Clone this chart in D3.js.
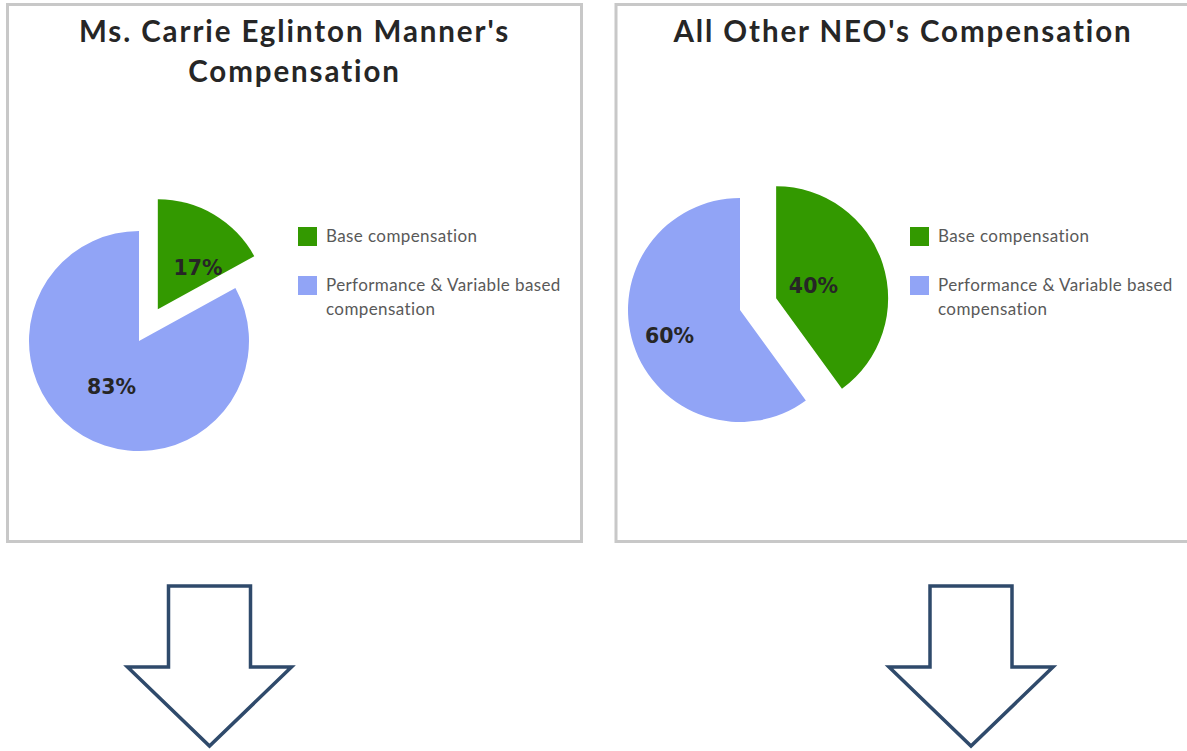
<!DOCTYPE html>
<html>
<head>
<meta charset="utf-8">
<script src="https://cdn.jsdelivr.net/npm/d3@7"></script>
<style>
  html, body { margin: 0; padding: 0; background: #ffffff; }
  svg { display: block; }
</style>
</head>
<body>
<script>
// ---------- DATA ----------
const categories = ["Base compensation", "Performance & Variable based compensation"];
const legendLines = [["Base compensation"], ["Performance & Variable based", "compensation"]];
const carrieValues = [17, 83];
const otherValues = [40, 60];
const carrieTitle = ["Ms. Carrie Eglinton Manner's", "Compensation"];
const otherTitle = ["All Other NEO's Compensation"];
const sliceColors = ["#339900", "#91a4f6"];

// ---------- LAYOUT ----------
const W = 1187, H = 751;
const panels = [
  { x: 7.5, y: 4.5, w: 574, h: 537, title: carrieTitle, values: carrieValues,
    cx: 139, cy: 341, r: 110, explode: 37, legendX: 298, labelFrac: [0.52, 0.49], labelNudge: [14, 0] },
  { x: 616, y: 4.5, w: 574, h: 537, title: otherTitle, values: otherValues,
    cx: 740, cy: 310, r: 112, explode: 38, legendX: 910, labelFrac: [0.35, 0.67], labelNudge: [0, -2] }
];

const svg = d3.select("body").append("svg").attr("width", W).attr("height", H);

const pie = d3.pie().sort(null).value(d => d);

panels.forEach(p => {
  const g = svg.append("g");
  g.append("rect").attr("x", p.x).attr("y", p.y).attr("width", p.w).attr("height", p.h)
    .attr("fill", "#fff").attr("stroke", "#c8c8c8").attr("stroke-width", 3);

  // title
  const tcx = p.x + p.w / 2;
  g.append("text").attr("x", tcx).attr("y", 42).attr("text-anchor", "middle")
    .attr("font-family", "Lato, 'Open Sans', sans-serif").attr("font-weight", "bold")
    .attr("font-size", 29.5).attr("letter-spacing", 1.9).attr("fill", "#262626")
    .selectAll("tspan").data(p.title).join("tspan")
    .attr("x", tcx).attr("dy", (d, i) => i === 0 ? 0 : 40).text(d => d);

  // pie
  const arcs = pie(p.values);
  const arc = d3.arc().innerRadius(0).outerRadius(p.r);
  const total = d3.sum(p.values);
  arcs.forEach((a, i) => {
    const mid = (a.startAngle + a.endAngle) / 2;
    const off = i === 0 ? p.explode : 0;
    const ox = p.cx + off * Math.sin(mid), oy = p.cy - off * Math.cos(mid);
    const sg = g.append("g").attr("transform", `translate(${ox},${oy})`);
    sg.append("path").attr("d", arc(a)).attr("fill", sliceColors[i]);
    const la = mid + p.labelNudge[i] * Math.PI / 180;
    const lr = p.r * p.labelFrac[i];
    sg.append("text").attr("x", lr * Math.sin(la)).attr("y", -lr * Math.cos(la))
      .attr("text-anchor", "middle").attr("dominant-baseline", "central")
      .attr("font-family", "'DejaVu Sans', Verdana, sans-serif").attr("font-weight", "bold")
      .attr("font-size", 20.5).attr("fill", "#262626")
      .text(Math.round(a.data / total * 100) + "%");
  });

  // legend
  const ly = [227, 276];
  categories.forEach((c, i) => {
    g.append("rect").attr("x", p.legendX).attr("y", ly[i]).attr("width", 19).attr("height", 19)
      .attr("fill", sliceColors[i]);
    g.append("text").attr("x", p.legendX + 28).attr("y", ly[i] + 15)
      .attr("font-family", "Lato, 'Open Sans', sans-serif").attr("font-size", 17)
      .attr("letter-spacing", 0.4).attr("fill", "#595959")
      .selectAll("tspan").data(legendLines[i]).join("tspan")
      .attr("x", p.legendX + 28).attr("dy", (d, k) => k === 0 ? 0 : 24).text(d => d);
  });
});

// arrows
const arrows = [{ cx: 209.5 }, { cx: 971 }];
arrows.forEach(a => {
  const top = 586, neck = 667, tip = 746, sw = 41, hw = 82;
  const pts = [
    [a.cx - sw, top], [a.cx + sw, top], [a.cx + sw, neck], [a.cx + hw, neck],
    [a.cx, tip], [a.cx - hw, neck], [a.cx - sw, neck]
  ];
  svg.append("path").attr("d", d3.line()(pts) + "Z")
    .attr("fill", "#fff").attr("stroke", "#2f4a6b").attr("stroke-width", 3.5)
    .attr("stroke-linejoin", "miter");
});
</script>
</body>
</html>
